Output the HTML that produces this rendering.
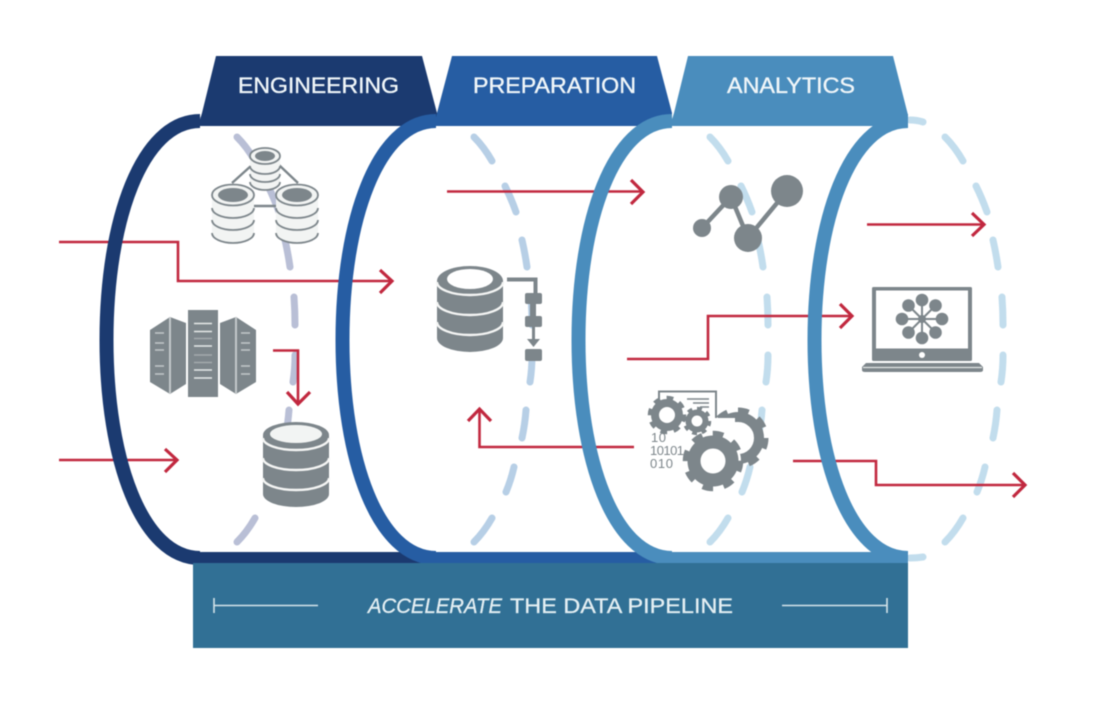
<!DOCTYPE html>
<html>
<head>
<meta charset="utf-8">
<title>Accelerate the Data Pipeline</title>
<style>
html,body{margin:0;padding:0;background:#fff;width:1116px;height:702px;overflow:hidden}
svg{display:block;filter:blur(.45px)}
text{font-family:"Liberation Sans",sans-serif}
.red{fill:none;stroke:#c1283f;stroke-width:2.6}
.head{fill:none;stroke:#c1283f;stroke-width:3.2}
.g{fill:#7d868b}
.w{fill:none;stroke:#f4f5f4;stroke-width:2.4}
.ln{fill:none;stroke:#7d868b}
.tab{fill:#f0f6f9;stroke:#f0f6f9;stroke-width:.35px;font-size:22px}
.bt{fill:#e4eff3;stroke:#e4eff3;stroke-width:.3px;font-size:21px}
</style>
</head>
<body>
<svg width="1116" height="702" viewBox="0 0 1116 702" xmlns="http://www.w3.org/2000/svg">
<defs>
<path id="dash" fill="none" stroke-width="7" stroke-linecap="round" d="M910,120 Q917,120 923,122 M945,137 Q955,147 963,161 M976,186 Q982,198 987,212 M993,240 Q996,253 998,267 M1002,297 Q1003,311 1003,325 M1003,355 Q1003,369 1001,382 M997,410 Q996,424 993,438 M985,467 Q982,480 977,492 M963,518 Q955,532 945,542 M923,557 Q917,558 910,558"/>
<path id="ring" fill="none" stroke-width="14" d="M908,121 C850,121 814.500,220 814.500,340 C814.500,460 850,558 908,558"/>
</defs>

<!-- dashed back edges -->
<use href="#dash" x="-708" stroke="#b9bfd6"/>
<use href="#dash" x="-471" stroke="#b7cfe6"/>
<use href="#dash" x="-235" stroke="#c2dded"/>
<use href="#dash" stroke="#c2dded"/>

<!-- red connectors -->
<path class="red" d="M59,242 H178 V281 H392"/>
<path class="head" d="M380,270 L392,281 L380,293"/>
<path class="red" d="M59,460 H177"/>
<path class="head" d="M165,449 L177,460 L165,472"/>
<path class="red" d="M447,191.500 H643"/>
<path class="head" d="M631,180 L643,192 L631,204"/>
<path class="red" d="M627,359 H708 V316 H852"/>
<path class="head" d="M840,304 L852,316 L840,328"/>
<path class="red" d="M867,224.500 H984"/>
<path class="head" d="M972,213 L984,224.500 L972,236"/>
<path class="red" d="M793,461 H876 V485 H1025"/>
<path class="head" d="M1013,473 L1025,485 L1013,497"/>
<path class="red" d="M634,447 H479.500 V409"/>
<path class="head" d="M468,421 L479.500,409 L491,421"/>

<!-- bands -->
<polygon fill="#1b3a70" points="216,56 422,56 437,113 437,126 198,126 202,113"/>
<rect x="195" y="552" width="245" height="11" fill="#1b3a70"/>
<use href="#ring" x="-708" stroke="#1b3a70"/>
<polygon fill="#265da3" points="452,56 657,56 672,113 672,126 434,126 437,113"/>
<rect x="432" y="552" width="245" height="11" fill="#265da3"/>
<use href="#ring" x="-472" stroke="#265da3"/>
<polygon fill="#4a8dbd" points="688,56 893,56 908,115 908,126 670,126 674,113"/>
<rect x="668" y="552" width="240" height="11" fill="#4a8dbd"/>
<use href="#ring" x="-236" stroke="#4a8dbd"/>
<use href="#ring" stroke="#4a8dbd"/>
<rect x="193" y="563" width="715" height="85" fill="#317095"/>

<!-- band labels -->
<text class="tab" x="238" y="93" textLength="161" lengthAdjust="spacingAndGlyphs">ENGINEERING</text>
<text class="tab" x="473" y="93" textLength="163" lengthAdjust="spacingAndGlyphs">PREPARATION</text>
<text class="tab" x="727" y="93" textLength="128" lengthAdjust="spacingAndGlyphs">ANALYTICS</text>
<text class="bt" x="368" y="613" font-style="italic" textLength="134" lengthAdjust="spacingAndGlyphs">ACCELERATE</text>
<text class="bt" x="510" y="613" textLength="223" lengthAdjust="spacingAndGlyphs">THE DATA PIPELINE</text>
<path fill="none" stroke="#d5e4ea" stroke-width="1.6" d="M214,598 V613 M214,605.500 H318 M782,605.500 H887 M887,598 V613"/>

<!-- database cluster -->
<path class="ln" stroke-width="2.400" d="M232,183 L252,165 M279,165 L298,183 M250,206 H280"/>
<path d="M250,157 V182 A15,8 0 0 0 280,182 V157Z M212,196 V233 A21,10 0 0 0 254,233 V196Z M276,196 V233 A21,10 0 0 0 318,233 V196Z" fill="#f2f4f3"/>
<g fill="none" stroke="#7d868b" stroke-width="1.800">
<path d="M250,166 A15,8 0 0 0 280,166 M250,174 A15,8 0 0 0 280,174 M250,182 A15,8 0 0 0 280,182"/>
<path d="M212,208 A21,10 0 0 0 254,208 M212,220 A21,10 0 0 0 254,220 M212,233 A21,10 0 0 0 254,233"/>
<path d="M276,208 A21,10 0 0 0 318,208 M276,220 A21,10 0 0 0 318,220 M276,233 A21,10 0 0 0 318,233"/>
<ellipse cx="265" cy="156" rx="15" ry="8" fill="#f2f4f3"/>
<ellipse cx="233" cy="195" rx="21" ry="10.500" fill="#f2f4f3"/>
<ellipse cx="297" cy="195" rx="21" ry="10.500" fill="#f2f4f3"/>
</g>
<ellipse class="g" cx="265" cy="156" rx="10" ry="5"/>
<ellipse class="g" cx="233" cy="195" rx="15" ry="7"/>
<ellipse class="g" cx="297" cy="195" rx="15" ry="7"/>

<!-- server racks -->
<polygon class="g" points="150,330 170,317 186,323 186,384 170,394 150,382"/>
<polygon class="g" points="220,323 236,317 256,330 256,382 236,394 220,384"/>
<rect class="g" x="188" y="310" width="30" height="87"/>
<path fill="none" stroke="#c3c8ca" stroke-width="2" d="M170,317 V394 M236,317 V394"/>
<path fill="none" stroke="#e6e9e9" stroke-width="1.600" d="M194,323.500 H212 M194,331.500 H212 M194,346 H212 M194,370 H212 M194,378 H212"/>
<path fill="none" stroke="#a4aaad" stroke-width="1.600" d="M194,338.500 H212 M194,355 H212 M194,362.500 H212"/>
<path fill="none" stroke="#c3c8ca" stroke-width="1.400" d="M155,333 H164 M155,343 H164 M155,350 H164 M155,366 H164 M155,374 H164 M241,333 H250 M241,343 H250 M241,350 H250 M241,366 H250 M241,374 H250"/>

<!-- arrow over the dashes -->
<path class="red" d="M273,350.500 H298 V403"/>
<path class="head" d="M287,392 L298,404 L310,392"/>

<!-- database lower -->
<path class="g" d="M263,435 V494 A33,13 0 0 0 329,494 V435 A33,13 0 0 0 263,435Z"/>
<path class="w" d="M263,438 A33,12 0 0 0 329,438 M263,458 A33,12 0 0 0 329,458 M263,478 A33,12 0 0 0 329,478"/>
<ellipse cx="296" cy="434" rx="26" ry="9" fill="#f2f4f3"/>

<!-- database + flow -->
<path class="g" d="M437,281 V338 A33,14 0 0 0 503,338 V281 A33,15 0 0 0 437,281Z"/>
<path class="w" d="M437,282 A33,13 0 0 0 503,282 M437,302 A33,13 0 0 0 503,302 M437,322 A33,13 0 0 0 503,322"/>
<ellipse cx="470" cy="279" rx="23" ry="10" fill="#fff"/>
<path class="ln" stroke-width="4" d="M507,279.500 H535.500 V293"/>
<rect class="g" x="525" y="293" width="17" height="11" rx="2"/>
<rect class="g" x="530" y="304" width="6" height="12"/>
<rect class="g" x="525" y="316" width="17" height="11" rx="2"/>
<path class="ln" stroke-width="3" d="M533.500,327 V342"/>
<polygon class="g" points="527,339 540,339 533.500,347"/>
<rect class="g" x="525" y="349" width="17" height="12" rx="2"/>

<!-- analytics network -->
<path class="ln" stroke-width="4.500" d="M702,228 L731,197 L748,238 L787,191"/>
<circle class="g" cx="702" cy="228" r="9"/>
<circle class="g" cx="731" cy="197" r="12"/>
<circle class="g" cx="748" cy="238" r="14"/>
<circle class="g" cx="787" cy="191" r="16"/>

<!-- gears -->
<path class="ln" stroke-width="2" d="M659,402 V391.500 H716 V418"/>
<path class="ln" stroke-width="1.500" d="M687,399 H709 M693,403 H709 M700,407 H709"/>
<!-- gear D -->
<circle cx="738" cy="438" r="21" fill="none" stroke="#7d868b" stroke-width="10"/>
<circle cx="738" cy="438" r="27.500" fill="none" stroke="#7d868b" stroke-width="6" pathLength="80" stroke-dasharray="5 5"/>
<circle cx="735" cy="438" r="16" fill="#fff"/>
<path d="M708,418 H735 V455 H708Z" fill="#fff"/>
<!-- gear A -->
<circle cx="667" cy="415" r="12" fill="none" stroke="#7d868b" stroke-width="8"/>
<circle cx="667" cy="415" r="17" fill="none" stroke="#7d868b" stroke-width="4.500" pathLength="80" stroke-dasharray="5 5"/>
<!-- gear B -->
<circle cx="697" cy="421" r="8.500" fill="none" stroke="#7d868b" stroke-width="6"/>
<circle cx="697" cy="421" r="12.500" fill="none" stroke="#7d868b" stroke-width="3.500" pathLength="80" stroke-dasharray="5 5"/>
<!-- gear C -->
<circle cx="713" cy="461" r="28" fill="#fff"/>
<circle cx="713" cy="461" r="19" fill="none" stroke="#7d868b" stroke-width="13"/>
<circle cx="713" cy="461" r="27" fill="none" stroke="#7d868b" stroke-width="6.500" pathLength="80" stroke-dasharray="5 5"/>
<text x="651" y="442" font-size="13" fill="#7d868b" textLength="15">10</text>
<text x="650" y="455" font-size="13" fill="#7d868b" textLength="34">10101</text>
<text x="650" y="468" font-size="13" fill="#7d868b" textLength="23">010</text>

<!-- laptop -->
<rect class="g" x="872" y="287" width="100" height="74" rx="1.500"/>
<rect x="876" y="290.500" width="92" height="58" fill="#fff"/>
<circle cx="922" cy="355" r="3" fill="#fff"/>
<path class="g" d="M866,363 H979 L983,367 V370 Q983,372 980,372 H865 Q862,372 862,370 V367Z"/>
<path fill="none" stroke="#e4e7e7" stroke-width="1.200" d="M863,367.500 H982"/>
<path fill="none" stroke="#7d868b" stroke-width="2" d="M922,300 V338 M903,319 H941 M908.500,305.500 L935.500,332.500 M935.500,305.500 L908.500,332.500"/>
<circle class="g" cx="922" cy="319" r="4"/>
<g class="g">
<circle cx="922" cy="300" r="6.300"/><circle cx="922" cy="338" r="6.300"/>
<circle cx="898" cy="319" r="6.300" transform="translate(4,0)"/><circle cx="946" cy="319" r="6.300" transform="translate(-4,0)"/>
<circle cx="908.500" cy="305.500" r="6.300"/><circle cx="935.500" cy="305.500" r="6.300"/>
<circle cx="908.500" cy="332.500" r="6.300"/><circle cx="935.500" cy="332.500" r="6.300"/>
</g>
</svg>
</body>
</html>
